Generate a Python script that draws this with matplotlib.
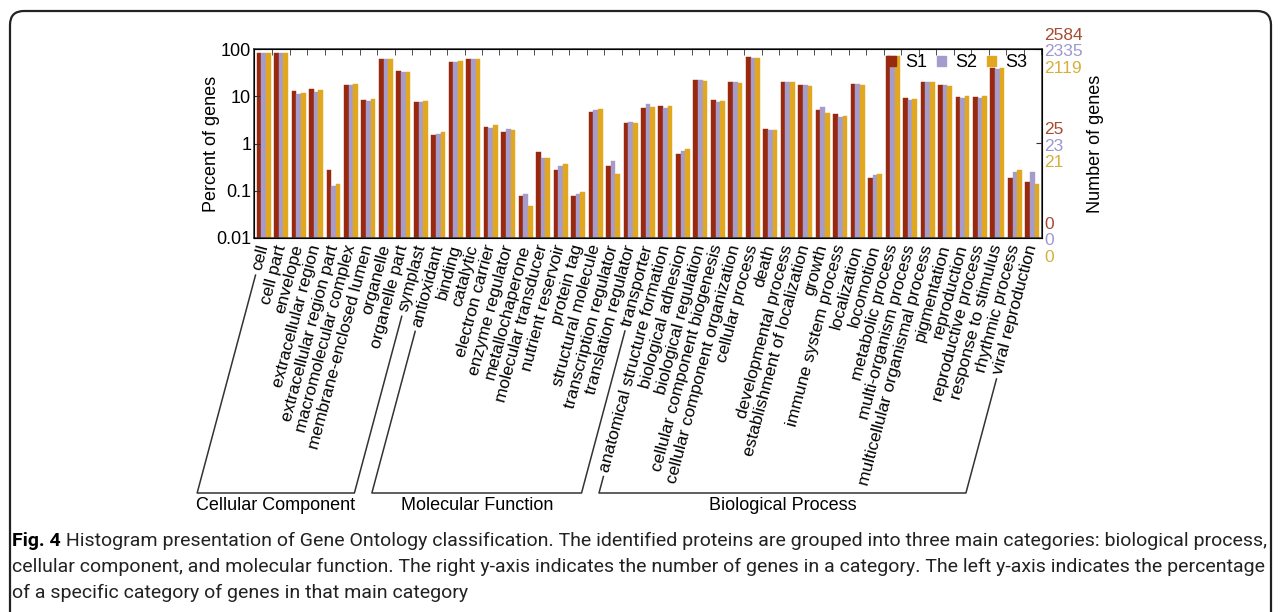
import numpy as np
import matplotlib
matplotlib.use("Agg")
import matplotlib.pyplot as plt
from matplotlib.patches import Patch, FancyBboxPatch
from matplotlib.lines import Line2D
from matplotlib.ticker import NullLocator, FixedLocator

plt.rcParams['font.family'] = ['Liberation Sans', 'DejaVu Sans']

# GO terms, in plotting order
terms = ["cell", "cell part", "envelope", "extracellular region",
         "extracellular region part", "macromolecular complex",
         "membrane-enclosed lumen", "organelle", "organelle part", "symplast",
         "antioxidant", "binding", "catalytic", "electron carrier",
         "enzyme regulator", "metallochaperone", "molecular transducer",
         "nutrient reservoir", "protein tag", "structural molecule",
         "transcription regulator", "translation regulator", "transporter",
         "anatomical structure formation", "biological adhesion",
         "biological regulation", "cellular component biogenesis",
         "cellular component organization", "cellular process", "death",
         "developmental process", "establishment of localization", "growth",
         "immune system process", "localization", "locomotion",
         "metabolic process", "multi-organism process",
         "multicellular organismal process", "pigmentation", "reproduction",
         "reproductive process", "response to stimulus", "rhythmic process",
         "viral reproduction"]

# main categories: (name, first term index, last term index)
groups = [("Cellular Component", 0, 9),
          ("Molecular Function", 10, 22),
          ("Biological Process", 23, 44)]

# percent of genes per sample
s1 = [82, 82, 13.1, 14.2, 0.27, 16.9, 8.2, 62.5, 34.4, 7.7,
      1.5, 54, 60.6, 2.25, 1.76, 0.078, 0.646, 0.27, 0.078, 4.57, 0.34, 2.68, 5.73,
      6.1, 0.6, 22.2, 8.4, 20.2, 67.9, 2.03, 20.2, 17.2, 5.1, 4.2, 18, 0.19,
      72.4, 9.0, 20.2, 17.5, 9.6, 9.5, 39.8, 0.19, 0.156]
s2 = [82, 82, 11.3, 12.6, 0.126, 16.9, 7.8, 60, 32, 7.6,
      1.6, 54, 60, 2.14, 2.03, 0.085, 0.5, 0.33, 0.085, 5.0, 0.42, 2.9, 6.95,
      5.7, 0.68, 22, 7.7, 19.8, 66, 1.97, 20.2, 17.7, 5.9, 3.65, 18.6, 0.215,
      72, 8.3, 20.2, 17.2, 9.3, 9.3, 37.3, 0.25, 0.25]
s3 = [82, 83, 11.5, 13.3, 0.14, 18.4, 8.9, 62.5, 32.5, 8.0,
      1.73, 56.7, 60, 2.47, 1.97, 0.048, 0.5, 0.37, 0.094, 5.5, 0.23, 2.68, 6.0,
      6.2, 0.75, 21.5, 8.0, 19.5, 66, 1.9, 20, 16.1, 4.4, 3.86, 16.9, 0.23,
      71, 8.9, 20.2, 16.6, 10.2, 10.0, 39.8, 0.28, 0.14]

samples = ["S1", "S2", "S3"]
bar_colors = ["#98290f", "#a59ccb", "#e1a81f"]
num_colors = ["#a64b33", "#9d98cf", "#d4b03c"]

# gene counts shown on the right axis at 100 %, 1 % and 0.01 %
count_top = ["2584", "2335", "2119"]
count_mid = ["25", "23", "21"]
count_low = ["0", "0", "0"]

caption = [
    "Histogram presentation of Gene Ontology classification. The identified proteins are "
    "grouped into three main categories: biological process,",
    "cellular component, and molecular function. The right y-axis indicates the number of "
    "genes in a category. The left y-axis indicates the percentage",
    "of a specific category of genes in that main category",
]

W, H = 1281, 612
ANGLE = 75
fig = plt.figure(figsize=(W / 100, H / 100), dpi=100)

bg = fig.add_axes([0, 0, 1, 1], zorder=-1)
bg.set_xlim(0, W)
bg.set_ylim(H, 0)
bg.axis("off")
bg.add_patch(FancyBboxPatch((10, 11), W - 20, 650, boxstyle="round,pad=0,rounding_size=14",
                            fc="white", ec="#222222", lw=1.6, clip_on=False))

ax = fig.add_axes([254 / W, 1 - 238 / H, 788 / W, 189 / H])
x = np.arange(len(terms))
bw = 0.267
for k, (vals, c, lab) in enumerate(zip([s1, s2, s3], bar_colors, samples)):
    ax.bar(x + (k - 1) * bw, vals, width=bw, color=c, edgecolor=c, lw=0.3, label=lab)

ax.set_yscale("log")
ax.set_ylim(0.01, 100)
ax.set_xlim(-0.55, len(terms) - 0.45)
ax.yaxis.set_minor_locator(NullLocator())
ax.set_yticks([0.01, 0.1, 1, 10, 100])
ax.set_yticklabels(["0.01", "0.1", "1", "10", "100"])
ax.tick_params(axis="y", direction="in", length=4, pad=2, labelsize=13, color="#333333")

ax.set_xticks(x)
ax.set_xticklabels(terms, rotation=ANGLE, ha="right", va="center", rotation_mode="anchor",
                   fontsize=12.5)
ax.tick_params(axis="x", which="major", length=0, pad=5)
ax.xaxis.set_minor_locator(FixedLocator(np.arange(len(terms)) + 0.5))
ax.tick_params(axis="x", which="minor", bottom=False, top=True, direction="in",
               length=4, color="#333333")
for sp in ax.spines.values():
    sp.set_color("#333333")
    sp.set_linewidth(1.1)

ax.set_ylabel("Percent of genes", fontsize=13)
ax.yaxis.set_label_coords(-0.043, 0.5)

ax2 = ax.twinx()
ax2.set_yscale("log")
ax2.set_ylim(0.01, 100)
ax2.yaxis.set_minor_locator(NullLocator())
ax2.set_yticks([0.01, 1, 100])
ax2.set_yticklabels([])
ax2.tick_params(axis="y", direction="in", length=4, color="#333333")
ax2.set_ylabel("Number of genes", fontsize=13)
ax2.yaxis.set_label_coords(1.057, 0.5)
for level, labs in zip([100, 1, 0.01], [count_top, count_mid, count_low]):
    for k, (t, c) in enumerate(zip(labs, num_colors)):
        ax.annotate(t, xy=(1, level), xycoords=ax.get_yaxis_transform(),
                    xytext=(1.5, (1 - k) * 12 - 2), textcoords="offset points",
                    ha="left", va="center", color=c, fontsize=12.5, annotation_clip=False)

handles = [Patch(color=c, label=s) for c, s in zip(bar_colors, samples)]
ax.legend(handles=handles, ncol=3, frameon=False, loc="center right",
          bbox_to_anchor=(0.993, 0.926), fontsize=13, handlelength=0.5,
          handleheight=0.5, handletextpad=0.5, columnspacing=0.55, borderpad=0)

# group brackets running along the rotated labels
fig.canvas.draw()
rend = fig.canvas.get_renderer()
ticklabels = ax.get_xticklabels()
slope = np.tan(np.deg2rad(ANGLE))
y_floor = H - 493
to_fig = fig.transFigure.inverted()


def label_tail(i):
    t = ticklabels[i]
    xa, ya = t.get_transform().transform(t.get_position())
    ys = t.get_window_extent(rend).y0 - 3
    return (xa - (ya - ys) / slope, ys), xa - (ya - y_floor) / slope


for name, i0, i1 in groups:
    (xs0, ys0), xb0 = label_tail(i0)
    (xs1, ys1), xb1 = label_tail(i1)
    pts = to_fig.transform([(xs0, ys0), (xb0, y_floor), (xb1, y_floor), (xs1, ys1)])
    fig.add_artist(Line2D(pts[:, 0], pts[:, 1], color="#333333", lw=1.1,
                          transform=fig.transFigure))
    fig.text((xb0 + xb1) / 2 / W, 1 - 506 / H, name, ha="center", va="center", fontsize=13)

# caption, sized so the first line spans the frame
cap_font = "Roboto"
lead = bg.text(12, 541, "Fig. 4", fontsize=13, family=cap_font, weight="bold",
               va="center", ha="left")
rest = bg.annotate(" " + caption[0], xy=(1, 0), xycoords=lead, va="bottom", ha="left",
                   fontsize=13, family=cap_font, color="#222222")
lines = [bg.text(12, 567 + 26 * j, line, fontsize=13, family=cap_font, va="center",
                 ha="left", color="#222222") for j, line in enumerate(caption[1:])]
fig.canvas.draw()
span = rest.get_window_extent(rend).x1 - 12
size = 13 * 1248 / span
for t in [lead, rest] + lines:
    t.set_fontsize(size)

fig.savefig("out.png", dpi=100)
